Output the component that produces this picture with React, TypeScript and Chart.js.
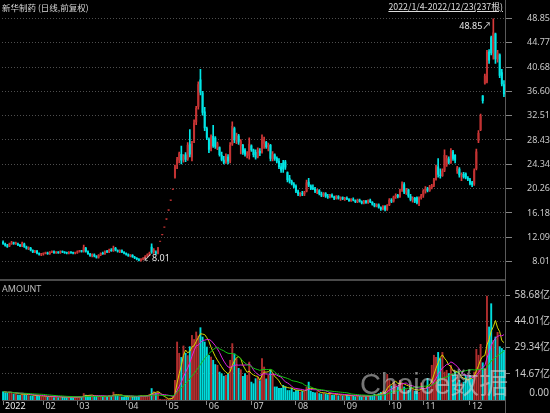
import React, { useEffect, useRef } from 'react';
import { Chart, registerables } from 'chart.js';

Chart.register(...registerables);

// ---------- data ----------
const monthLabels = ['2022', '02', '03', '04', '05', '06', '07', '08', '09', '10', '11', '12'];
const monthDays = [19, 16, 23, 19, 19, 21, 21, 23, 21, 16, 22, 17];

const opens = [
  11.3, 11.0, 10.7, 10.6, 11.0, 11.2, 11.0, 11.0, 10.8, 10.6, 11.0, 10.5, 10.2, 10.3, 9.9, 9.6, 9.8, 9.4, 9.2,
  9.3, 9.4, 9.5, 9.3, 9.6, 9.7, 9.5, 9.6, 9.5, 9.7, 9.6, 9.5, 9.4, 9.6, 9.5, 9.4,
  9.5, 9.7, 9.8, 9.7, 10.3, 9.7, 9.3, 9.0, 9.2, 8.9, 8.7, 9.1, 9.4, 9.3, 9.7, 9.6, 10.0, 9.8, 10.3, 9.9, 9.7, 9.9, 9.6,
  9.4, 9.2, 9.0, 9.1, 8.8, 8.6, 8.4, 8.2, 8.4, 8.6, 8.9, 9.2, 10.5, 9.6, 9.5, 9.4, 11.35, 12.49, 13.74,
  15.11, 16.62, 18.28, 20.11, 22.1, 24.2, 25.0, 26.1, 25.1, 26.0, 25.2, 27.8, 25.5, 28.2, 31.4, 34.0, 38.6, 36.4, 33.2,
  30.4, 28.6, 26.9, 29.1, 28.8, 27.0, 27.2, 25.9, 25.1, 24.7, 25.6, 24.8, 27.7, 30.4, 28.4, 29.2, 27.4, 27.6, 26.8, 26.0, 25.8,
  27.5, 26.8, 26.4, 25.6, 26.6, 26.4, 27.8, 28.1, 27.2, 27.6, 25.2, 26.0, 25.4, 24.9, 24.0, 24.6, 24.8, 23.0, 22.0, 21.5, 21.1,
  20.7, 19.8, 19.3, 19.5, 19.3, 19.8, 21.4, 20.8, 20.4, 20.2, 19.8, 20.0, 19.4, 19.1, 19.5, 19.0, 18.8, 19.2, 18.9, 18.6, 19.0, 18.6, 18.8,
  18.5, 18.7, 18.5, 18.2, 18.5, 18.3, 18.0, 18.4, 18.1, 17.8, 18.2, 17.9, 18.3, 18.0, 17.6, 17.3, 17.6, 17.1, 16.8, 17.3, 16.7,
  17.5, 18.4, 18.1, 18.9, 19.2, 18.9, 20.0, 21.0, 19.6, 20.1, 19.0, 18.4, 18.7, 18.8, 17.9, 18.7,
  19.1, 19.9, 20.3, 19.9, 20.4, 20.8, 21.8, 24.0, 22.6, 22.4, 23.3, 24.2, 25.3, 24.6, 26.5, 25.9, 23.2, 23.6, 22.5, 22.7, 22.8, 22.1,
  21.8, 21.3, 21.0, 23.6, 28.3, 30.1, 35.9, 37.9, 38.2, 43.3, 45.7, 43.0, 46.3, 42.0, 42.8, 39.8, 37.8,
];

const highs = [
  11.5, 11.1, 10.9, 11.1, 11.4, 11.3, 11.3, 11.1, 10.9, 11.3, 11.1, 10.6, 10.5, 10.4, 10.0, 9.9, 9.9, 9.5, 9.4,
  9.5, 9.6, 9.6, 9.7, 9.8, 9.8, 9.7, 9.7, 9.8, 9.8, 9.7, 9.6, 9.7, 9.7, 9.6, 9.6,
  9.8, 9.9, 9.9, 10.8, 10.4, 9.8, 9.4, 9.3, 9.3, 9.0, 9.2, 9.5, 9.6, 9.8, 9.9, 10.1, 10.2, 10.6, 10.4, 10.0, 10.0, 10.0, 9.7,
  9.5, 9.3, 9.2, 9.2, 8.9, 8.7, 8.5, 8.5, 8.7, 9.0, 9.3, 9.6, 11.0, 10.2, 9.8, 10.4, 11.35, 12.49, 13.74,
  15.11, 16.62, 18.28, 20.11, 24.2, 25.5, 26.4, 27.4, 26.0, 26.3, 28.0, 30.2, 28.2, 31.8, 34.1, 38.2, 40.3, 36.6, 33.9,
  30.6, 28.8, 29.3, 30.9, 29.0, 28.1, 27.3, 26.4, 25.7, 26.1, 26.0, 28.0, 31.5, 30.6, 29.6, 29.4, 28.5, 27.7, 27.0, 26.5, 28.8,
  27.6, 26.9, 26.8, 27.1, 27.0, 29.3, 28.9, 28.2, 27.9, 27.7, 26.5, 26.1, 25.6, 25.3, 24.5, 25.0, 25.0, 23.1, 22.5, 21.7, 21.3,
  20.9, 20.0, 19.6, 19.8, 19.8, 21.7, 22.0, 20.9, 20.9, 20.5, 20.2, 20.1, 19.7, 19.6, 19.6, 19.3, 19.3, 19.4, 19.0, 19.1, 19.1, 18.9, 18.9,
  18.8, 18.9, 18.6, 18.6, 18.7, 18.4, 18.5, 18.5, 18.2, 18.3, 18.3, 18.4, 18.5, 18.1, 17.8, 17.7, 17.7, 17.2, 17.4, 17.4, 17.6,
  18.6, 18.6, 19.0, 19.4, 19.3, 20.2, 21.4, 21.3, 20.3, 20.2, 19.3, 18.9, 18.8, 18.9, 18.9, 19.3,
  20.1, 20.6, 20.5, 20.8, 21.0, 22.0, 24.2, 25.3, 23.6, 23.6, 26.8, 25.8, 25.6, 27.0, 26.7, 26.0, 24.0, 23.8, 22.9, 23.0, 22.9, 22.3,
  22.0, 21.5, 23.6, 26.9, 30.0, 32.8, 35.9, 39.5, 43.5, 43.6, 45.9, 48.85, 46.4, 43.5, 42.9, 40.3, 38.4,
];

const lows = [
  10.9, 10.6, 10.4, 10.5, 10.9, 10.9, 10.9, 10.7, 10.5, 10.5, 10.4, 10.1, 10.0, 9.8, 9.5, 9.5, 9.3, 9.1, 9.0,
  9.1, 9.3, 9.2, 9.2, 9.5, 9.4, 9.4, 9.4, 9.4, 9.5, 9.4, 9.3, 9.3, 9.4, 9.3, 9.3,
  9.4, 9.6, 9.6, 9.6, 9.6, 9.2, 8.9, 8.8, 8.8, 8.6, 8.6, 9.0, 9.2, 9.2, 9.5, 9.5, 9.7, 9.7, 9.8, 9.6, 9.5, 9.5, 9.3,
  9.1, 8.9, 8.8, 8.7, 8.5, 8.3, 8.1, 8.01, 8.3, 8.5, 8.8, 9.0, 9.4, 9.4, 9.2, 9.3, 11.35, 12.49, 13.74,
  15.11, 16.62, 18.28, 20.11, 22.0, 23.6, 24.6, 24.4, 24.7, 24.8, 25.0, 25.6, 24.9, 28.0, 31.0, 33.6, 36.0, 32.6, 30.0,
  28.5, 26.3, 26.6, 27.2, 27.0, 26.8, 25.7, 24.9, 24.4, 24.5, 24.4, 24.6, 27.5, 28.0, 27.8, 27.7, 26.1, 26.0, 25.7, 25.4, 25.2,
  26.5, 25.6, 25.2, 25.4, 25.8, 26.2, 27.0, 27.0, 26.6, 24.9, 24.9, 25.0, 24.6, 23.6, 23.0, 23.0, 23.5, 21.4, 21.2, 20.9, 20.4,
  19.6, 19.1, 19.0, 19.1, 19.1, 19.7, 20.6, 20.1, 20.1, 19.6, 19.4, 19.2, 18.9, 18.9, 18.8, 18.6, 18.7, 18.8, 18.4, 18.5, 18.5, 18.3, 18.4,
  18.3, 18.4, 18.1, 18.1, 18.2, 17.9, 17.9, 18.0, 17.7, 17.7, 17.8, 17.8, 17.9, 17.5, 17.2, 17.2, 17.0, 16.6, 16.7, 16.5, 16.6,
  17.4, 17.9, 18.0, 18.6, 18.7, 18.8, 19.8, 19.4, 19.3, 18.8, 18.2, 18.0, 17.9, 17.7, 17.4, 18.5,
  18.8, 19.5, 19.7, 19.8, 20.2, 20.6, 21.7, 22.2, 22.0, 22.3, 23.1, 24.0, 24.4, 24.5, 25.0, 24.6, 22.8, 22.2, 21.6, 22.0, 21.9, 21.6,
  20.9, 20.6, 20.8, 23.4, 28.0, 30.0, 34.6, 37.8, 38.0, 41.3, 42.7, 42.0, 41.3, 41.5, 38.9, 37.5, 35.7,
];

const closes = [
  11.0, 10.7, 10.5, 11.0, 11.2, 11.0, 11.1, 10.8, 10.6, 11.1, 10.5, 10.2, 10.4, 9.9, 9.6, 9.8, 9.4, 9.2, 9.3,
  9.4, 9.5, 9.3, 9.6, 9.7, 9.5, 9.6, 9.5, 9.7, 9.6, 9.5, 9.4, 9.6, 9.5, 9.4, 9.5,
  9.7, 9.8, 9.7, 10.4, 9.7, 9.3, 9.0, 9.2, 8.9, 8.7, 9.1, 9.4, 9.3, 9.7, 9.6, 10.0, 9.8, 10.3, 9.9, 9.7, 9.9, 9.6, 9.4,
  9.2, 9.0, 9.1, 8.8, 8.6, 8.4, 8.2, 8.4, 8.6, 8.9, 9.2, 9.5, 9.6, 10.0, 9.4, 10.3, 11.35, 12.49, 13.74,
  15.11, 16.62, 18.28, 20.11, 24.0, 25.2, 26.2, 25.0, 25.7, 25.1, 27.6, 26.0, 27.8, 31.3, 33.8, 37.8, 36.4, 33.0, 30.4,
  28.8, 26.8, 29.0, 27.4, 27.3, 27.9, 25.9, 25.1, 24.6, 25.8, 24.8, 27.6, 30.8, 28.4, 29.2, 28.0, 28.2, 26.3, 26.0, 26.2, 27.8,
  26.7, 25.9, 25.5, 26.8, 26.2, 28.6, 28.5, 27.2, 27.6, 25.3, 26.1, 25.3, 24.8, 23.9, 23.3, 23.5, 23.8, 21.7, 21.5, 21.1, 20.6,
  19.8, 19.3, 19.5, 19.3, 19.7, 21.3, 20.8, 20.3, 20.2, 19.8, 20.0, 19.4, 19.1, 19.5, 19.0, 18.8, 19.2, 18.9, 18.6, 19.0, 18.6, 18.8, 18.5,
  18.7, 18.5, 18.2, 18.5, 18.3, 18.0, 18.4, 18.1, 17.8, 18.2, 17.9, 18.3, 18.0, 17.6, 17.3, 17.6, 17.1, 16.8, 17.3, 16.7, 17.5,
  18.4, 18.1, 18.9, 19.2, 18.9, 20.0, 21.0, 19.6, 20.1, 19.0, 18.4, 18.7, 18.1, 17.9, 18.7, 19.1,
  19.9, 20.3, 19.9, 20.6, 20.8, 21.8, 23.8, 22.6, 22.4, 23.3, 25.9, 25.4, 24.6, 26.6, 25.3, 25.0, 23.8, 22.5, 22.7, 22.2, 22.1, 21.8,
  21.1, 20.9, 23.3, 26.5, 29.6, 32.5, 35.0, 39.2, 43.2, 41.8, 43.0, 46.5, 42.0, 43.1, 39.2, 37.8, 36.1,
];

// turnover amount, 亿
const amounts = [
  4.8, 4.2, 3.9, 4.5, 4.0, 3.5, 3.6, 3.0, 2.8, 3.8, 3.2, 2.9, 2.7, 2.5, 2.4, 2.2, 2.6, 2.3, 2.0,
  1.8, 2.1, 1.7, 2.0, 2.2, 1.6, 1.8, 1.5, 1.9, 1.7, 1.6, 1.5, 1.8, 1.6, 1.4, 1.6,
  1.7, 1.9, 1.6, 3.8, 2.9, 2.4, 2.6, 2.0, 2.1, 2.3, 2.0, 2.2, 1.8, 2.3, 2.0, 2.6, 2.1, 4.6, 3.0, 2.4, 2.1, 1.9, 1.8,
  1.9, 1.8, 1.6, 1.9, 2.0, 2.2, 2.4, 2.6, 2.1, 2.3, 2.8, 3.4, 6.6, 4.8, 3.9, 4.5, 0.6, 0.4, 0.5,
  0.8, 0.7, 1.2, 2.0, 11.2, 32.6, 26.3, 24.0, 30.4, 26.3, 25.0, 30.0, 36.3, 34.0, 38.2, 36.0, 40.6, 35.4, 32.6,
  29.8, 25.1, 24.2, 22.4, 20.0, 19.6, 15.8, 14.9, 13.5, 14.0, 15.0, 22.4, 31.7, 26.0, 23.3, 17.9, 17.1, 13.4, 15.0, 14.0, 21.4,
  10.2, 9.3, 12.1, 13.0, 11.0, 23.3, 18.6, 12.0, 14.0, 16.8, 15.0, 7.5, 7.5, 6.7, 6.7, 8.4, 7.5, 5.5, 5.5, 6.7, 4.6,
  5.5, 5.5, 4.6, 5.0, 4.8, 7.5, 10.2, 5.2, 4.5, 4.2, 4.8, 3.8, 3.5, 4.0, 3.6, 3.2, 3.9, 3.0, 2.8, 3.4, 2.6, 2.9, 2.5,
  2.4, 2.8, 2.1, 2.6, 2.3, 2.0, 2.7, 2.2, 1.9, 2.5, 2.1, 2.6, 2.3, 2.9, 3.4, 3.0, 3.8, 4.5, 5.2, 4.4, 14.5,
  11.2, 8.0, 10.2, 9.0, 7.5, 11.2, 9.5, 7.5, 6.0, 5.6, 6.7, 6.0, 5.2, 5.0, 4.6, 9.7,
  7.0, 5.6, 12.3, 8.0, 19.6, 25.2, 24.0, 26.8, 23.3, 26.8, 15.8, 16.8, 15.0, 19.6, 14.0, 15.8, 14.0, 11.2, 9.7, 10.2, 14.0, 11.2,
  14.0, 12.0, 15.8, 28.5, 25.2, 31.3, 21.0, 18.0, 58.3, 41.0, 54.0, 33.5, 35.4, 38.0, 30.0, 29.0, 28.0,
];

const priceTicks = [8.01, 12.09, 16.18, 20.26, 24.34, 28.43, 32.51, 36.6, 40.68, 44.77, 48.85];
const amountTicks = [14.67, 29.34, 44.01, 58.68];
const maPeriods = [5, 10, 20];

// ---------- styles ----------
const UI_FONT = '"Noto Sans", "Noto Sans CJK SC", "DejaVu Sans", sans-serif';
const CJK_FONT = '"Noto Sans CJK SC", "Noto Sans", sans-serif';
const RED_BODY = '#c23232';
const RED_WICK = '#d83a3a';
const CYAN = '#00e6e6';
const RED_VOL = '#b02e2e';
const CYAN_VOL = '#00dcdc';
const GRID = '#4e4e4e';
const AXIS_TEXT = '#c8c8c8';
const MA_COLORS = ['#d8d800', '#e020e0', '#12c412'];

function movingAverage(values: number[], n: number) {
  return values.map((_, i) => {
    const s = Math.max(0, i - n + 1);
    let sum = 0;
    for (let k = s; k <= i; k++) sum += values[k];
    return sum / (i - s + 1);
  });
}

export default function App() {
  const mainRef = useRef<HTMLCanvasElement | null>(null);
  const volRef = useRef<HTMLCanvasElement | null>(null);

  useEffect(() => {
    const labels: string[] = [];
    const monthStartLabel: Record<number, string> = {};
    monthDays.forEach((count, m) => {
      monthStartLabel[labels.length] = monthLabels[m];
      for (let d = 1; d <= count; d++) labels.push(`${monthLabels[m]}-${d}`);
    });
    const monthStarts = Object.keys(monthStartLabel).map(Number);

    const isUp = opens.map((o, i) => closes[i] >= o);
    const bodies = opens.map((o, i) => [Math.min(o, closes[i]), Math.max(o, closes[i])]);
    const wicks = lows.map((l, i) => [l, highs[i]]);

    let hiIdx = 0;
    let loIdx = 0;
    highs.forEach((h, i) => { if (h > highs[hiIdx]) hiIdx = i; });
    lows.forEach((l, i) => { if (l < lows[loIdx]) loIdx = i; });

    const extremaPlugin = {
      id: 'extrema',
      afterDatasetsDraw(chart: any) {
        const { ctx, scales } = chart;
        const x = scales.x;
        const y = scales.y;
        ctx.save();
        ctx.font = `9px ${UI_FONT}`;
        ctx.fillStyle = '#e6e6e6';
        ctx.textBaseline = 'middle';
        ctx.textAlign = 'right';
        ctx.fillText(`${highs[hiIdx].toFixed(2)}↗`, x.getPixelForValue(hiIdx) - 2, y.getPixelForValue(highs[hiIdx]) + 8);
        ctx.textAlign = 'left';
        ctx.fillText(`↙${lows[loIdx].toFixed(2)}`, x.getPixelForValue(loIdx) + 2, y.getPixelForValue(lows[loIdx]) - 3);
        ctx.restore();
      },
    };

    const main = new Chart(mainRef.current as HTMLCanvasElement, {
      type: 'bar',
      data: {
        labels,
        datasets: [
          {
            label: 'body',
            data: bodies as any,
            backgroundColor: isUp.map((u) => (u ? RED_BODY : CYAN)),
            borderWidth: 0,
            barPercentage: 0.95,
            categoryPercentage: 1,
            grouped: false,
            minBarLength: 1,
            order: 0,
          } as any,
          {
            label: 'wick',
            data: wicks as any,
            backgroundColor: isUp.map((u) => (u ? RED_WICK : CYAN)),
            borderWidth: 0,
            barThickness: 1,
            grouped: false,
            order: 1,
          } as any,
        ],
      },
      options: {
        responsive: false,
        animation: false,
        devicePixelRatio: 1,
        events: [],
        layout: { padding: { top: 14, bottom: 9, left: 2, right: 0 } },
        plugins: { legend: { display: false }, tooltip: { enabled: false } },
        scales: {
          x: { type: 'category', display: false, offset: true },
          y: {
            position: 'right',
            min: priceTicks[0],
            max: priceTicks[priceTicks.length - 1],
            afterBuildTicks: (s: any) => { s.ticks = priceTicks.map((v) => ({ value: v })); },
            afterFit: (s: any) => { s.width = 45; },
            grid: { color: GRID, tickColor: '#858585', tickLength: 7, tickBorderDash: [10, 0], drawTicks: true },
            border: { display: false, dash: [1, 2] },
            ticks: {
              color: AXIS_TEXT,
              font: { size: 9, family: UI_FONT },
              crossAlign: 'far',
              padding: 13,
              callback: (v: any) => Number(v).toFixed(2),
            },
          } as any,
        },
      },
      plugins: [extremaPlugin],
    } as any);

    const zeroLabel = {
      id: 'zeroLabel',
      afterDraw(chart: any) {
        const { ctx, scales } = chart;
        ctx.save();
        ctx.font = `10px ${UI_FONT}`;
        ctx.fillStyle = AXIS_TEXT;
        ctx.textAlign = 'right';
        ctx.textBaseline = 'middle';
        ctx.fillText((0).toFixed(2), chart.width - 1, scales.y.getPixelForValue(0) - 7);
        ctx.restore();
      },
    };

    const maSets = maPeriods.map((n, k) => ({
      type: 'line',
      label: `MA${n}`,
      data: movingAverage(amounts, n),
      borderColor: MA_COLORS[k],
      borderWidth: 1,
      pointRadius: 0,
      tension: 0,
      fill: false,
      order: -1 - k,
    }));

    const vol = new Chart(volRef.current as HTMLCanvasElement, {
      type: 'bar',
      data: {
        labels,
        datasets: [
          {
            type: 'bar',
            label: 'AMOUNT',
            data: amounts,
            backgroundColor: isUp.map((u) => (u ? RED_VOL : CYAN_VOL)),
            borderWidth: 0,
            barPercentage: 0.9,
            categoryPercentage: 1,
            order: 5,
          } as any,
          ...(maSets as any[]),
        ],
      },
      options: {
        responsive: false,
        animation: false,
        devicePixelRatio: 1,
        events: [],
        layout: { padding: { top: 15, bottom: 0, left: 2, right: 0 } },
        plugins: { legend: { display: false }, tooltip: { enabled: false } },
        scales: {
          x: {
            type: 'category',
            offset: true,
            afterBuildTicks: (s: any) => { s.ticks = monthStarts.map((v) => ({ value: v })); },
            afterFit: (s: any) => { s.height = 13; },
            grid: { drawOnChartArea: false, drawTicks: true, tickLength: 5, tickColor: '#858585', offset: false, tickBorderDash: [10, 0] },
            border: { display: true, color: '#555555' },
            ticks: {
              autoSkip: false,
              maxRotation: 0,
              minRotation: 0,
              align: 'start',
              labelOffset: 2,
              padding: -4,
              color: (c: any) => (c.index === 0 ? '#ececec' : AXIS_TEXT),
              font: { size: 9, family: UI_FONT },
              callback: (v: any) => monthStartLabel[v] ?? '',
            },
          } as any,
          y: {
            position: 'right',
            min: 0,
            max: amountTicks[amountTicks.length - 1],
            afterBuildTicks: (s: any) => { s.ticks = amountTicks.map((v) => ({ value: v })); },
            afterFit: (s: any) => { s.width = 45; },
            grid: { color: GRID, tickColor: '#858585', tickLength: 5, tickBorderDash: [10, 0], drawTicks: true },
            border: { display: false, dash: [1, 2] },
            ticks: {
              color: AXIS_TEXT,
              font: { size: 10, family: UI_FONT },
              crossAlign: 'far',
              padding: 3,
              callback: (v: any) => `${Number(v).toFixed(2)}亿`,
            },
          } as any,
        },
      },
      plugins: [zeroLabel],
    } as any);

    return () => {
      main.destroy();
      vol.destroy();
    };
  }, []);

  return (
    <div
      style={{
        position: 'fixed',
        left: 0,
        top: 0,
        width: 550,
        height: 413,
        background: '#000',
        overflow: 'hidden',
        fontFamily: CJK_FONT,
      }}
    >
      <canvas ref={mainRef} width={550} height={280} style={{ position: 'absolute', left: 0, top: 0, width: 550, height: 280 }} />
      <canvas ref={volRef} width={550} height={133} style={{ position: 'absolute', left: 0, top: 280, width: 550, height: 133 }} />
      <div style={{ position: 'absolute', left: 0, top: 279, width: 506, height: 2, background: '#4a4a4a' }} />
      <div style={{ position: 'absolute', left: 505, top: 0, width: 1, height: 413, background: '#5a5a5a' }} />
      <div style={{ position: 'absolute', left: 2, top: 1, fontSize: 8.5, lineHeight: '12px', color: '#d6d6d6', whiteSpace: 'nowrap' }}>
        新华制药 (日线,前复权)
      </div>
      <div
        style={{
          position: 'absolute',
          right: 47,
          top: 1,
          fontSize: 8.8,
          lineHeight: '12px',
          color: '#dcdcdc',
          textDecoration: 'underline',
          whiteSpace: 'nowrap',
        }}
      >
        2022/1/4-2022/12/23(237根)
      </div>
      <div style={{ position: 'absolute', left: 2, top: 283, fontSize: 9, lineHeight: '11px', color: '#bdbdbd', fontFamily: UI_FONT }}>
        AMOUNT
      </div>
      <div
        style={{
          position: 'absolute',
          left: 360,
          top: 370,
          fontSize: 29,
          lineHeight: 1,
          color: 'rgba(215,215,215,0.55)',
          fontFamily: '"Liberation Sans", "Noto Sans CJK SC", sans-serif',
          whiteSpace: 'nowrap',
          pointerEvents: 'none',
        }}
      >
        Choice数据
      </div>
    </div>
  );
}
